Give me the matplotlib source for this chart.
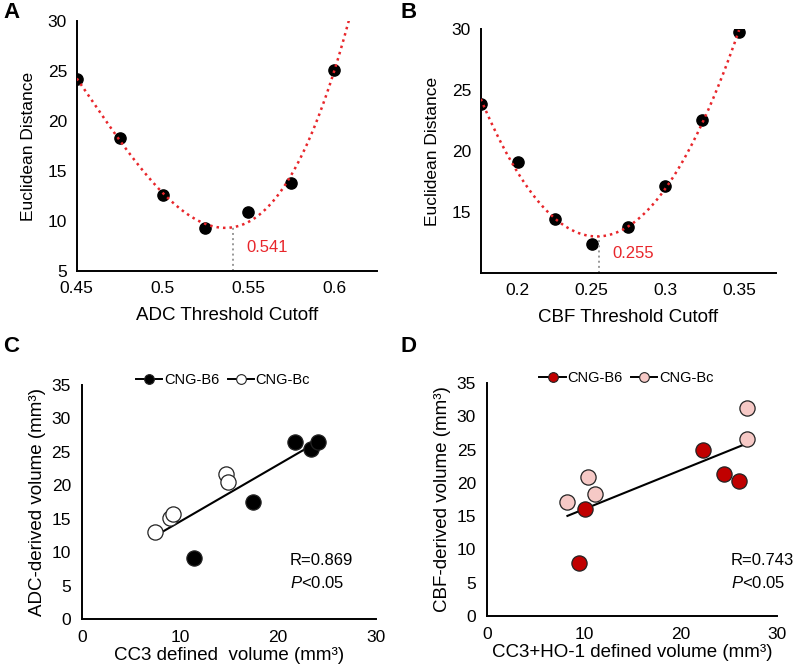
import numpy as np
import matplotlib
matplotlib.use("Agg")
import matplotlib.pyplot as plt
from matplotlib.lines import Line2D

plt.rcParams['font.family'] = ['Liberation Sans', 'DejaVu Sans']
plt.rcParams['mathtext.fontset'] = 'custom'
plt.rcParams['mathtext.it'] = 'Liberation Sans:italic'
plt.rcParams['mathtext.rm'] = 'Liberation Sans'

# Panel A: ADC threshold sweep
adc_cut = [0.45, 0.475, 0.5, 0.525, 0.55, 0.575, 0.6]
adc_dist = [24.2, 18.3, 12.6, 9.3, 10.9, 13.8, 25.1]
adc_opt = 0.541

# Panel B: CBF threshold sweep
cbf_cut = [0.175, 0.2, 0.225, 0.25, 0.275, 0.3, 0.325, 0.35]
cbf_dist = [23.85, 19.1, 14.4, 12.4, 13.8, 17.1, 22.5, 29.75]
cbf_opt = 0.255

# Panel C: CC3 vs ADC volumes
c_b6_x = [11.4, 17.4, 21.7, 23.4, 24.1]
c_b6_y = [9.1, 17.5, 26.5, 25.4, 26.5]
c_bc_x = [7.4, 9.0, 9.3, 14.7, 14.9]
c_bc_y = [13.0, 15.1, 15.7, 21.7, 20.5]

# Panel D: CC3+HO-1 vs CBF volumes
d_b6_x = [9.5, 10.1, 22.3, 24.5, 26.0]
d_b6_y = [7.9, 16.0, 25.0, 21.4, 20.3]
d_bc_x = [8.3, 10.4, 11.1, 26.9, 26.9]
d_bc_y = [17.2, 20.9, 18.3, 31.3, 26.6]

fig = plt.figure(figsize=(8, 6.69), dpi=100)


def style(ax):
    for s in ['top', 'right']:
        ax.spines[s].set_visible(False)
    for s in ['left', 'bottom']:
        ax.spines[s].set_linewidth(1.4)
    ax.tick_params(length=0, labelsize=12.5, pad=7)


# --- A ---
axA = fig.add_axes([0.096, 0.595, 0.375, 0.3737])
style(axA)
axA.scatter(adc_cut, adc_dist, s=65, color='black', zorder=2)
p = np.polyfit(adc_cut, adc_dist, 3)
xx = np.linspace(0.45, 0.625, 300)
axA.plot(xx, np.polyval(p, xx), color='#e8262b', ls=(0, (1, 1.6)), lw=1.8, zorder=3)
axA.plot([adc_opt, adc_opt], [5, np.polyval(p, adc_opt)], color='#999999', ls=':', lw=1.4)
axA.text(adc_opt + 0.008, 7.3, f'{adc_opt:.3f}', color='#e8262b', fontsize=12, va='center')
axA.set_xlim(0.45, 0.625)
axA.set_ylim(5, 30)
axA.set_xticks([0.45, 0.5, 0.55, 0.6])
axA.set_xticklabels(['0.45', '0.5', '0.55', '0.6'])
axA.set_yticks([5, 10, 15, 20, 25, 30])
axA.set_xlabel('ADC Threshold Cutoff', fontsize=13.5, labelpad=8)
axA.set_ylabel('Euclidean Distance', fontsize=12.5, labelpad=8)

# --- B ---
axB = fig.add_axes([0.601, 0.592, 0.369, 0.3647])
style(axB)
axB.scatter(cbf_cut, cbf_dist, s=65, color='black', zorder=2)
p = np.polyfit(cbf_cut, cbf_dist, 2)
xx = np.linspace(0.175, 0.35, 300)
axB.plot(xx, np.polyval(p, xx), color='#e8262b', ls=(0, (1, 1.6)), lw=1.8, zorder=3)
axB.plot([cbf_opt, cbf_opt], [10, np.polyval(p, cbf_opt)], color='#999999', ls=':', lw=1.4)
axB.text(cbf_opt + 0.009, 11.6, f'{cbf_opt:.3f}', color='#e8262b', fontsize=12, va='center')
axB.set_xlim(0.175, 0.375)
axB.set_ylim(10, 30)
axB.set_xticks([0.2, 0.25, 0.3, 0.35])
axB.set_xticklabels(['0.2', '0.25', '0.3', '0.35'])
axB.set_yticks([15, 20, 25, 30])
axB.set_xlabel('CBF Threshold Cutoff', fontsize=13.5, labelpad=8)
axB.set_ylabel('Euclidean Distance', fontsize=12.5, labelpad=8)


def scatter_panel(rect, b6x, b6y, bcx, bcy, b6col, bccol, xlabel, ylabel, rtext):
    ax = fig.add_axes(rect)
    style(ax)
    ax.tick_params(pad=8)
    allx = np.array(b6x + bcx)
    ally = np.array(b6y + bcy)
    k = np.polyfit(allx, ally, 1)
    xl = np.array([allx.min(), allx.max()])
    ax.plot(xl, np.polyval(k, xl), color='black', lw=1.5, zorder=2)
    ax.scatter(b6x, b6y, s=120, facecolor=b6col, edgecolor='#222222', lw=0.9, zorder=3)
    ax.scatter(bcx, bcy, s=120, facecolor=bccol, edgecolor='#222222', lw=0.9, zorder=3)
    ax.set_xlim(0, 30)
    ax.set_ylim(0, 35)
    ax.set_xticks([0, 10, 20, 30])
    ax.set_yticks(range(0, 36, 5))
    ax.set_xlabel(xlabel, fontsize=13.5, labelpad=1)
    ax.set_ylabel(ylabel, fontsize=13.5, labelpad=4)
    handles = [
        Line2D([], [], color='black', lw=1.4, marker='o', ms=7, mfc=b6col, mec='#222222', mew=0.8),
        Line2D([], [], color='black', lw=1.4, marker='o', ms=7, mfc=bccol, mec='#222222', mew=0.8),
    ]
    ax.legend(handles, ['CNG-B6', 'CNG-Bc'], ncol=2, frameon=False, fontsize=10.5,
              loc='center', bbox_to_anchor=(0.48, 1.02), handlelength=1.8,
              handletextpad=0.1, columnspacing=0.6, numpoints=1)
    ax.text(rtext[0], rtext[1], rtext[2], fontsize=12, va='center')
    ax.text(rtext[0], rtext[1] - 3.4, r'$\mathit{P}$<0.05', fontsize=12, va='center')
    return ax


scatter_panel([0.1025, 0.0747, 0.3675, 0.3498], c_b6_x, c_b6_y, c_bc_x, c_bc_y,
              'black', 'white', 'CC3 defined  volume (mm³)', 'ADC-derived volume (mm³)',
              (21.2, 8.8, 'R=0.869'))
scatter_panel([0.609, 0.0792, 0.3625, 0.3483], d_b6_x, d_b6_y, d_bc_x, d_bc_y,
              '#c00000', '#f6c9c6', 'CC3+HO-1 defined volume (mm³)', 'CBF-derived volume (mm³)',
              (25.2, 8.4, 'R=0.743'))

for lab, x, y in [('A', 0.004, 0.982), ('B', 0.5, 0.982), ('C', 0.004, 0.482), ('D', 0.5, 0.482)]:
    fig.text(x, y, lab, fontsize=16, fontweight='bold', va='center', ha='left')

fig.savefig('out.png', dpi=100)
